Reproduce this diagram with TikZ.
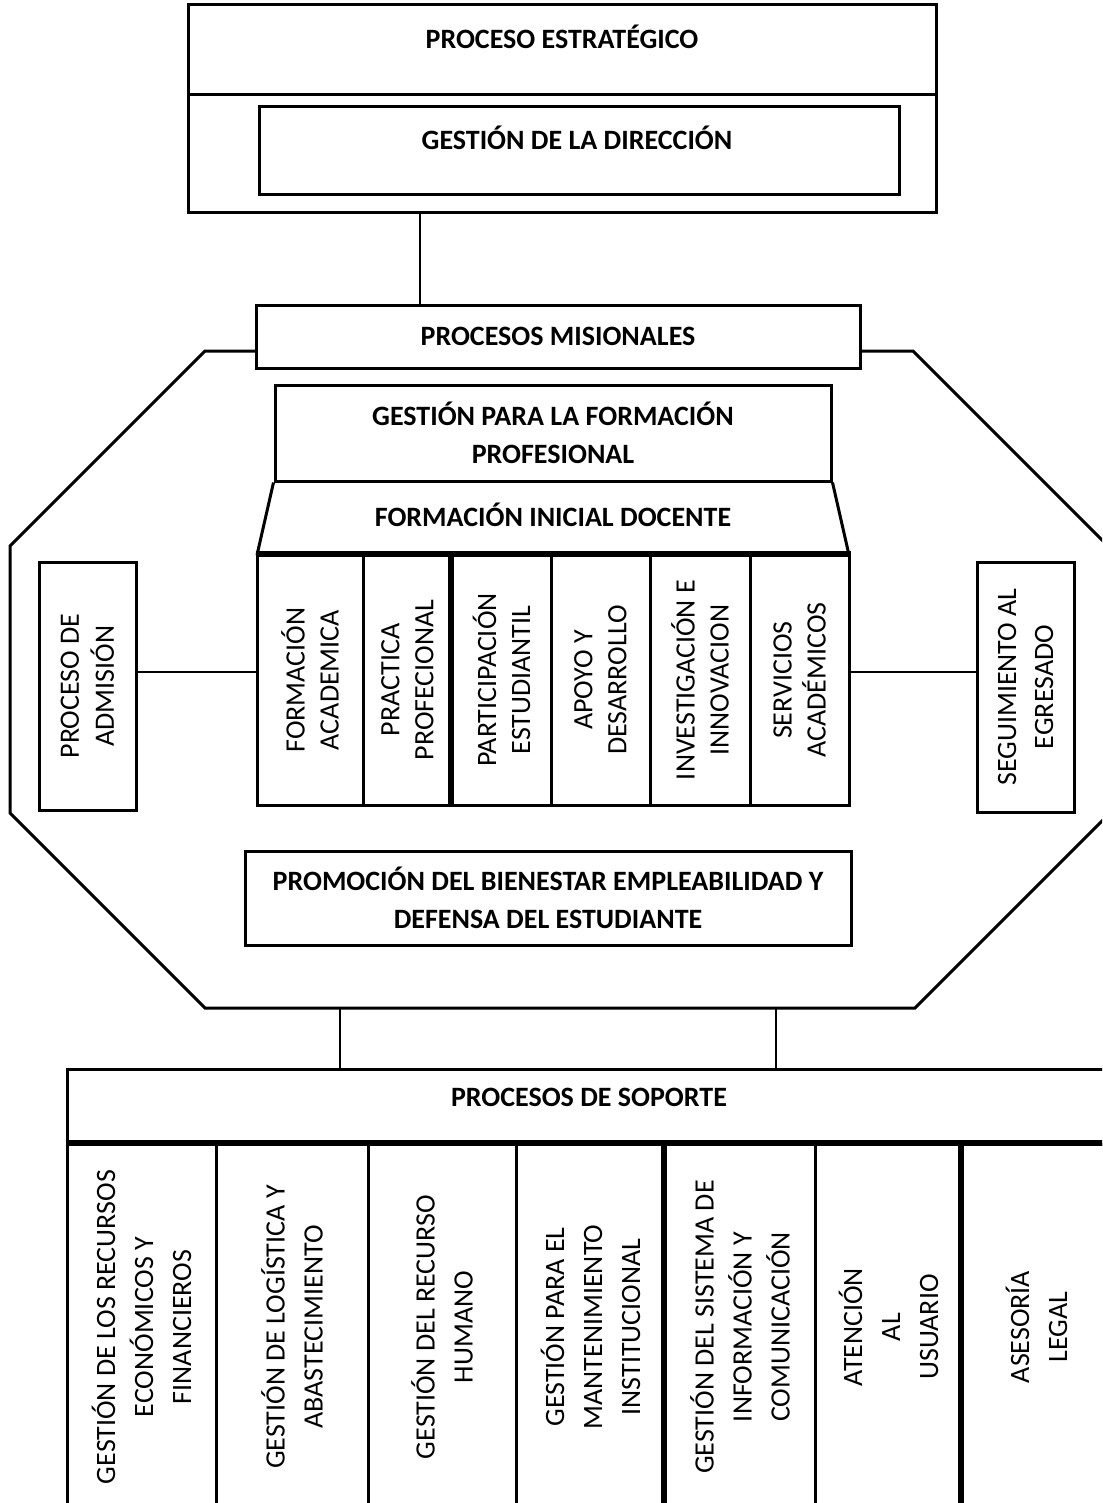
\documentclass[tikz,border=0pt]{standalone}
\usepackage{fontspec}
\setmainfont{Carlito}
\usepackage{tikz}

\tikzset{
  caja/.style={draw, line width=1.5pt, inner sep=0pt},
  letra/.style={font=\fontsize{14}{19}\selectfont, align=center},
  titulo/.style={letra, font=\fontsize{14}{19}\selectfont\bfseries},
  vtexto/.style={letra, rotate=90},
  enlace/.style={line width=0.7pt},
  grueso/.style={line width=2.5pt},
}

\begin{document}
\begin{tikzpicture}[x=0.5pt, y=-0.5pt]
    \useasboundingbox (0,0) rectangle (1102,1503);
    \clip (0,0) rectangle (1102,1503);

    % proceso estrategico
    \node[caja, minimum width=374pt, minimum height=104pt] (estr) at (562,109) {};
    \node[titulo] (estrt) at (562,37) {PROCESO ESTRATÉGICO};
    \draw[line width=1.5pt] (188,95) -- (936,95);
    \node[caja, minimum width=320pt, minimum height=44pt] (dir) at (579,151) {};
    \node[titulo] (dirt) at (577,138) {GESTIÓN DE LA DIRECCIÓN};

    % procesos misionales
    \node[caja, titulo, minimum width=302pt, minimum height=31.5pt] (mis) at (558,336.5) {PROCESOS MISIONALES};
    \coordinate (e1) at ([xshift=-71pt]estr.south);
    \draw[enlace] (e1) -- (e1 |- mis.north);

    \draw[line width=1.5pt] (256,351) -- (205,351) -- (10,546) -- (10,813) -- (205,1008)
        -- (915,1008) -- (1108,815) -- (1108,546) -- (913,351) -- (860,351);

    \node[caja, titulo, minimum width=278pt, minimum height=48pt] (form) at (553,433) {GESTIÓN PARA LA FORMACIÓN\\PROFESIONAL};
    \draw[line width=1.5pt] (form.south west) -- (257,555) (form.south east) -- (849,555);
    \node[titulo] (fid) at (553,515) {FORMACIÓN INICIAL DOCENTE};

    \foreach \n/\a/\b/\t in {1/257/363/{FORMACIÓN\\ACADEMICA}, 2/363/452/{PRACTICA\\PROFECIONAL},
        3/452/551/{PARTICIPACIÓN\\ESTUDIANTIL}, 4/551/650/{APOYO Y\\DESARROLLO},
        5/650/750/{INVESTIGACIÓN E\\INNOVACION}, 6/750/849/{SERVICIOS\\ACADÉMICOS}} {
      \node[caja, minimum width={(\b-\a)*0.5pt}, minimum height=125pt] (c\n) at ({(\a+\b)/2},680) {};
      \node[vtexto, font=\fontsize{14}{17}\selectfont] (c\n t) at (c\n) {\t};
    }
    \draw[grueso] (c1.north west) -- (c6.north east);
    \draw[grueso] (c3.north west) -- (c3.south west);

    \node[caja, minimum width=48.5pt, minimum height=124pt] (adm) at (87.5,686) {};
    \node[vtexto, font=\fontsize{14}{17.5}\selectfont] (admt) at (adm) {PROCESO DE\\ADMISIÓN};
    \node[caja, minimum width=48.5pt, minimum height=125pt] (seg) at (1025.5,687) {};
    \node[vtexto, font=\fontsize{14}{18.5}\selectfont] (segt) at (seg) {SEGUIMIENTO AL\\EGRESADO};
    \coordinate (ja) at ([yshift=4pt]c1.west);
    \coordinate (js) at ([yshift=4pt]c6.east);
    \draw[enlace] (ja -| adm.east) -- (ja);
    \draw[enlace] (js) -- (js -| seg.west);

    \node[caja, titulo, minimum width=303pt, minimum height=47pt] (prom) at (548,898) {PROMOCIÓN DEL BIENESTAR EMPLEABILIDAD Y\\DEFENSA DEL ESTUDIANTE};

    % procesos de soporte
    \node[caja, minimum width=522pt, minimum height=37.5pt] (sop) at (589,1106.5) {};
    \node[titulo] (sopt) at (589,1097) {PROCESOS DE SOPORTE};
    \coordinate (o1) at (340,1008);
    \coordinate (o2) at (776,1008);
    \draw[enlace] (o1) -- (o1 |- sop.north);
    \draw[enlace] (o2) -- (o2 |- sop.north);

    \foreach \n/\a/\b/\t in {1/67/216/{GESTIÓN DE LOS RECURSOS\\ECONÓMICOS Y\\FINANCIEROS},
        2/216/368/{GESTIÓN DE LOGÍSTICA Y\\ABASTECIMIENTO}, 3/368/516/{GESTIÓN DEL RECURSO\\HUMANO},
        4/516/665/{GESTIÓN PARA EL\\MANTENIMIENTO\\INSTITUCIONAL},
        5/665/815/{GESTIÓN DEL SISTEMA DE\\INFORMACIÓN Y\\COMUNICACIÓN},
        6/815/962/{ATENCIÓN\\AL\\USUARIO}, 7/962/1111/{ASESORÍA\\LEGAL}} {
      \node[caja, minimum width={(\b-\a)*0.5pt}, minimum height=183pt] (s\n) at ({(\a+\b)/2},1327) {};
      \node[vtexto] (s\n t) at (s\n) {\t};
    }
    \draw[grueso] (s1.north west) -- (s7.north east);
    \draw[grueso] (s5.north west) -- (s5.south west);
    \draw[grueso] (s7.north west) -- (s7.south west);
\end{tikzpicture}
\end{document}
